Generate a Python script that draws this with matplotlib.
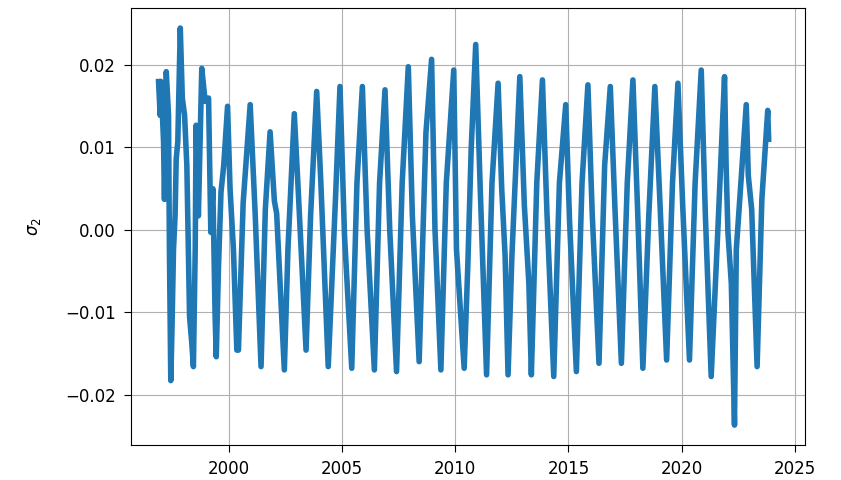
import matplotlib
matplotlib.use("Agg")
import matplotlib.pyplot as plt

plt.rcParams["font.size"] = 12

# turning points of the sigma_2 series (decimal year, value)
years = [
    1996.88, 1996.95, 1996.99, 1997.10, 1997.14, 1997.22, 1997.32, 1997.36,
    1997.42, 1997.47, 1997.54, 1997.61, 1997.66, 1997.73, 1997.84, 1997.93,
    1998.03, 1998.13, 1998.25, 1998.35, 1998.42, 1998.50, 1998.54, 1998.64,
    1998.79, 1998.94, 1999.09, 1999.19, 1999.28, 1999.38, 1999.43, 1999.53,
    1999.64, 1999.76, 1999.93, 2000.04, 2000.19, 2000.34,
    2000.41, 2000.62, 2000.93, 2001.15, 2001.41, 2001.60, 2001.81, 2002.00,
    2002.10, 2002.44, 2002.60, 2002.88, 2003.05, 2003.40, 2003.60, 2003.87,
    2004.05, 2004.38, 2004.70, 2004.90, 2005.10, 2005.42, 2005.65, 2005.89,
    2006.10, 2006.42, 2006.65, 2006.89, 2007.10, 2007.40, 2007.65, 2007.92,
    2008.10, 2008.40, 2008.70, 2008.95, 2009.10, 2009.36, 2009.60, 2009.93,
    2010.05, 2010.39, 2010.55, 2010.70, 2010.90, 2011.10, 2011.38, 2011.62,
    2011.89, 2012.05, 2012.20, 2012.33, 2012.50, 2012.85, 2013.05, 2013.25,
    2013.36, 2013.60, 2013.85, 2014.05, 2014.35, 2014.60, 2014.88, 2015.05,
    2015.35, 2015.60, 2015.86, 2016.05, 2016.35, 2016.60, 2016.85, 2017.05,
    2017.34, 2017.60, 2017.85, 2018.05, 2018.29, 2018.55, 2018.82, 2019.05,
    2019.34, 2019.60, 2019.84, 2020.05, 2020.35, 2020.60, 2020.87, 2021.05,
    2021.31, 2021.60, 2021.90, 2021.97, 2022.05, 2022.20, 2022.34, 2022.42,
    2022.86, 2022.95, 2023.10, 2023.34, 2023.55, 2023.81, 2023.85,
]
sigma2 = [
    0.0180, 0.0139, 0.0180, 0.0107, 0.0037, 0.0192, 0.0139, -0.0024,
    -0.0183, -0.0125, -0.0024, 0.0017, 0.0086, 0.0107, 0.0245, 0.0160,
    0.0139, 0.0078, -0.0105, -0.0138, -0.0166, -0.0024, 0.0127, 0.0017,
    0.0196, 0.0156, 0.0160, -0.0003, 0.0050, -0.0105, -0.0154, -0.0044,
    0.0046, 0.0078, 0.0150, 0.0050, -0.0024, -0.0146,
    -0.0146, 0.0033, 0.0152, 0.0020, -0.0166, 0.0025, 0.0119, 0.0035,
    0.0020, -0.0170, -0.0023, 0.0141, 0.0050, -0.0146, 0.0017, 0.0168,
    0.0060, -0.0166, 0.0037, 0.0174, -0.0007, -0.0168, 0.0057, 0.0174,
    0.0000, -0.0170, 0.0057, 0.0170, 0.0000, -0.0172, 0.0057, 0.0198,
    0.0017, -0.0160, 0.0118, 0.0207, 0.0000, -0.0170, 0.0057, 0.0194,
    -0.0024, -0.0168, -0.0044, 0.0098, 0.0225, 0.0050, -0.0176, 0.0057,
    0.0178, 0.0050, -0.0032, -0.0176, -0.0032, 0.0186, 0.0030, -0.0065,
    -0.0176, 0.0057, 0.0182, 0.0020, -0.0178, 0.0057, 0.0152, 0.0010,
    -0.0172, 0.0057, 0.0176, 0.0020, -0.0162, 0.0078, 0.0174, 0.0030,
    -0.0162, 0.0057, 0.0182, 0.0030, -0.0168, 0.0017, 0.0174, 0.0030,
    -0.0158, 0.0057, 0.0178, 0.0030, -0.0158, 0.0057, 0.0194, 0.0020,
    -0.0178, -0.0003, 0.0186, 0.0078, -0.0003, -0.0065, -0.0237, -0.0024,
    0.0152, 0.0066, 0.0025, -0.0166, 0.0037, 0.0145, 0.0110,
]

fig = plt.figure(figsize=(8.41, 4.8), dpi=100)
ax = fig.add_axes([0.156, 0.073, 0.801, 0.910])

ax.plot(years, sigma2, color="#1f77b4", linewidth=4)
ax.set_xlim(1995.67, 2025.45)
ax.set_ylabel(r"$\sigma_2$", labelpad=16)
ax.tick_params(length=5, pad=6)
ax.grid(True)

fig.savefig("out.png", dpi=100)
